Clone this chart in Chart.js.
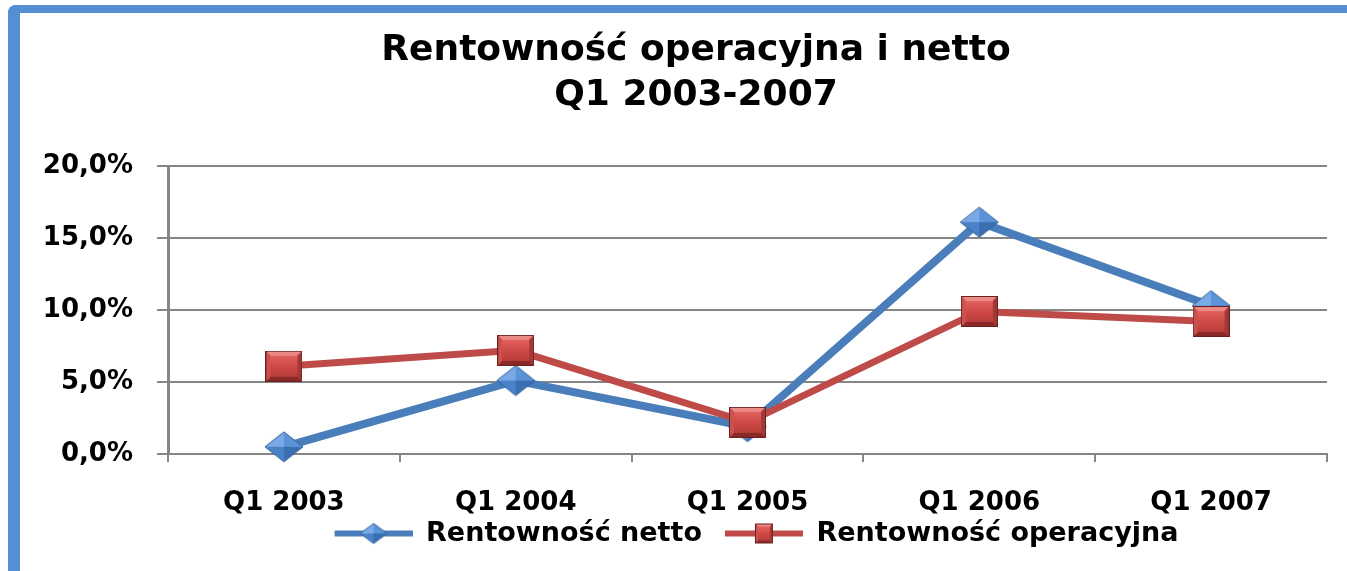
<!DOCTYPE html>
<html lang="pl">
<head>
    <meta charset="UTF-8">
    <title>Rentowność operacyjna i netto</title>
    <script src="https://cdn.jsdelivr.net/npm/chart.js"></script>
    <style>
        html, body { margin: 0; padding: 0; background: #fff; overflow: hidden; }
        .frame {
            position: absolute; left: 8px; top: 5px; width: 1400px; height: 560px;
            border-top: 8px solid #558ed5; border-left: 12px solid #558ed5;
            border-bottom: 3px solid #558ed5; border-top-left-radius: 8px;
        }
        .wrap { position: absolute; left: 0; top: 0; width: 1372px; height: 571px; }
    </style>
</head>
<body>
    <div class="frame"></div>
    <div class="wrap"><canvas id="chart"></canvas></div>
    <script>
// dane
const categories = ['Q1 2003', 'Q1 2004', 'Q1 2005', 'Q1 2006', 'Q1 2007'];
const netto = [0.5, 5.1, 1.9, 16.1, 10.3];
const operacyjna = [6.1, 7.2, 2.2, 9.9, 9.2];
const yTickLabels = ['0,0%', '5,0%', '10,0%', '15,0%', '20,0%'];
const titleLines = ['Rentowność operacyjna i netto', 'Q1 2003-2007'];
const seriesNames = ['Rentowność netto', 'Rentowność operacyjna'];

const BLUE = '#4a7ebb';
const RED = '#be4b48';
const GRID = '#868686';

function poly(g, pts, fill) {
    g.beginPath();
    g.moveTo(pts[0][0], pts[0][1]);
    for (let i = 1; i < pts.length; i++) g.lineTo(pts[i][0], pts[i][1]);
    g.closePath();
    g.fillStyle = fill;
    g.fill();
}

// marker: romb z "fasetami"
function drawDiamond(g, cx, cy, w, h) {
    const t = [cx, cy - h / 2], r = [cx + w / 2, cy], b = [cx, cy + h / 2], l = [cx - w / 2, cy];
    const c = [cx, cy];
    poly(g, [l, t, c], '#79aae6');
    poly(g, [t, r, c], '#5b93d8');
    poly(g, [l, b, c], '#4a82c8');
    poly(g, [b, r, c], '#3a6fb2');
    g.beginPath();
    g.moveTo(t[0], t[1]); g.lineTo(r[0], r[1]); g.lineTo(b[0], b[1]); g.lineTo(l[0], l[1]); g.closePath();
    g.strokeStyle = '#33619a'; g.lineWidth = 1; g.stroke();
}

// marker: kwadrat ze skosem
function drawSquare(g, x, y, w, h) {
    const bv = Math.round(Math.min(w, h) * 0.16);
    g.fillStyle = '#b8433f'; g.fillRect(x, y, w, h);
    poly(g, [[x, y], [x + w, y], [x + w - bv, y + bv], [x + bv, y + bv]], '#e98a86');
    poly(g, [[x, y + h], [x + w, y + h], [x + w - bv, y + h - bv], [x + bv, y + h - bv]], '#8a2a28');
    poly(g, [[x, y], [x + bv, y + bv], [x + bv, y + h - bv], [x, y + h]], '#c9524e');
    poly(g, [[x + w, y], [x + w - bv, y + bv], [x + w - bv, y + h - bv], [x + w, y + h]], '#a23936');
    const grad = g.createLinearGradient(0, y + bv, 0, y + h - bv);
    grad.addColorStop(0, '#e3625e');
    grad.addColorStop(0.5, '#d04a46');
    grad.addColorStop(1, '#b93e3b');
    g.fillStyle = grad;
    g.fillRect(x + bv, y + bv, w - 2 * bv, h - 2 * bv);
    g.strokeStyle = '#6e201f'; g.lineWidth = 1;
    g.strokeRect(x + 0.5, y + 0.5, w - 1, h - 1);
}

function makeCanvas(w, h) {
    const c = document.createElement('canvas');
    c.width = w; c.height = h;
    return c;
}

const diamondImg = makeCanvas(40, 32);
drawDiamond(diamondImg.getContext('2d'), 20, 16, 38, 30);
const squareImg = makeCanvas(37, 31);
drawSquare(squareImg.getContext('2d'), 0, 0, 37, 31);

// symbole legendy: linia + marker (z pustym marginesem z lewej)
function legendImg(color, kind) {
    const lead = 18, len = 78, h = 24;
    const c = makeCanvas(lead + len, h);
    const g = c.getContext('2d');
    g.strokeStyle = color; g.lineWidth = 6;
    g.beginPath(); g.moveTo(lead, h / 2); g.lineTo(lead + len, h / 2); g.stroke();
    const cx = lead + len / 2;
    if (kind === 'diamond') drawDiamond(g, cx, h / 2, 27, 20);
    else drawSquare(g, cx - 9, h / 2 - 10, 18, 20);
    return c;
}
const legendImgs = [legendImg(BLUE, 'diamond'), legendImg(RED, 'square')];

const chart = new Chart(document.getElementById('chart'), {
    type: 'line',
    data: {
        labels: categories,
        datasets: [{
            label: seriesNames[0],
            data: netto,
            borderColor: BLUE,
            backgroundColor: BLUE,
            borderWidth: 8,
            pointStyle: diamondImg,
            order: 1,
            clip: false
        }, {
            label: seriesNames[1],
            data: operacyjna,
            borderColor: RED,
            backgroundColor: RED,
            borderWidth: 7,
            pointStyle: squareImg,
            order: 0,
            clip: false
        }]
    },
    options: {
        responsive: true,
        maintainAspectRatio: false,
        animation: false,
        events: [],
        layout: { padding: { left: 20, right: 0, top: 0, bottom: 14 } },
        plugins: {
            tooltip: { enabled: false },
            title: {
                display: true,
                text: titleLines,
                color: '#000',
                font: { family: 'DejaVu Sans', size: 36, weight: 'bold', lineHeight: 1.25 },
                padding: { top: 28, bottom: 48 }
            },
            legend: {
                position: 'bottom',
                fullSize: false,
                labels: {
                    usePointStyle: true,
                    pointStyleWidth: 96,
                    padding: 5,
                    color: '#000',
                    font: { family: 'DejaVu Sans', size: 27, weight: 'bold' },
                    sort: (a, b) => a.datasetIndex - b.datasetIndex,
                    generateLabels: (ch) => {
                        const items = Chart.defaults.plugins.legend.labels.generateLabels(ch);
                        items.forEach(it => { it.pointStyle = legendImgs[it.datasetIndex]; });
                        return items;
                    }
                }
            }
        },
        scales: {
            x: {
                offset: true,
                afterFit: (scale) => { scale.height = 61; },
                grid: { offset: true, drawOnChartArea: false, tickLength: 8, color: GRID, lineWidth: 2 },
                border: { color: GRID, width: 2 },
                ticks: {
                    padding: 26,
                    color: '#000',
                    font: { family: 'DejaVu Sans', size: 26, weight: 'bold' }
                }
            },
            y: {
                min: 0,
                max: 20,
                afterFit: (scale) => { scale.width = 148; },
                grid: { color: GRID, lineWidth: 2, tickLength: 11 },
                border: { color: GRID, width: 3 },
                ticks: {
                    stepSize: 5,
                    padding: 24,
                    color: '#000',
                    font: { family: 'DejaVu Sans', size: 26, weight: 'bold' },
                    callback: (v, i) => yTickLabels[i]
                }
            },
            // pusty margines z prawej, zeby tytul byl wysrodkowany jak w oryginale
            yRight: {
                position: 'right',
                afterFit: (scale) => { scale.width = 45; },
                grid: { display: false },
                border: { display: false },
                ticks: { display: false }
            }
        }
    }
});
    </script>
</body>
</html>
